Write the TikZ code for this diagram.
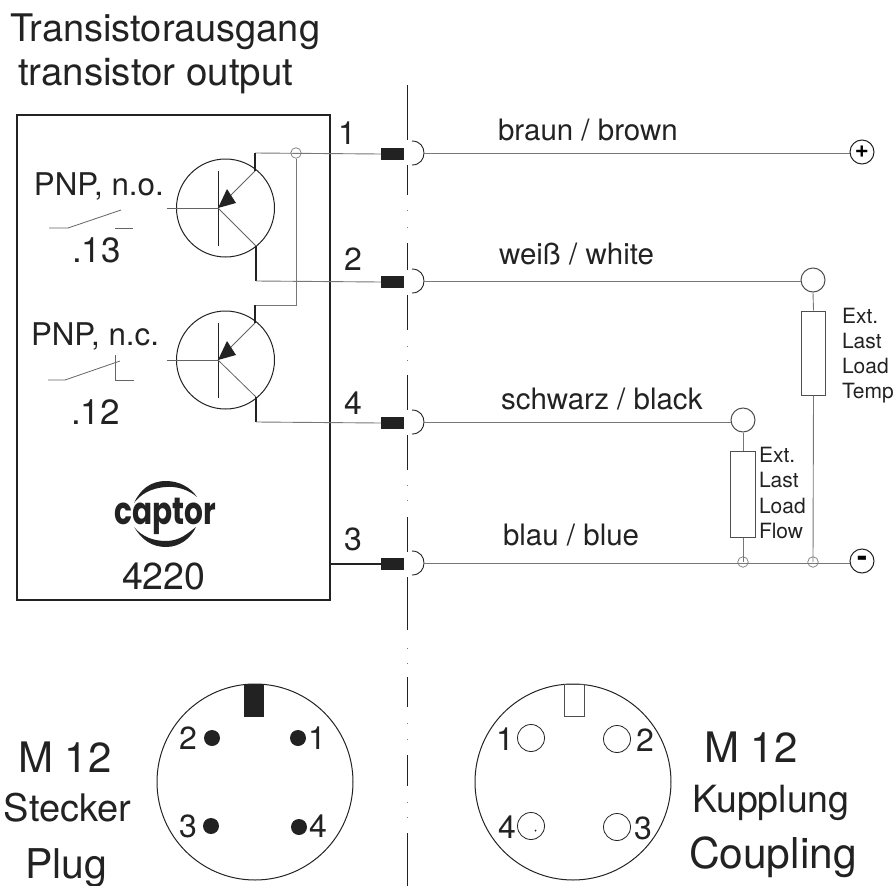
\documentclass[tikz,border=0pt]{standalone}
\usepackage{fontspec}
\setmainfont{TeX Gyre Heros}
\newfontfamily\logofont{Poppins}[Scale=1]
\newcommand{\fs}[1]{\fontsize{#1}{#1}\selectfont}
\definecolor{ink}{HTML}{222222}
\definecolor{wire}{HTML}{777777}
\tikzset{
 lbl/.style={anchor=base west,inner sep=0pt,outer sep=0pt,text=ink},
 cen/.style={anchor=base,inner sep=0pt,outer sep=0pt,text=ink},
 wireline/.style={draw=wire,line width=0.9pt},
 darkline/.style={draw=ink,line width=1.3pt},
 thinline/.style={draw=ink!70,line width=0.8pt},
 pinblock/.style={fill=ink,draw=none,minimum width=23pt,minimum height=12pt,inner sep=0pt},
 term/.style={circle,draw=ink,line width=1pt,minimum size=24pt,inner sep=0pt,fill=white},
 junct/.style={circle,draw=wire,line width=0.7pt,minimum size=10.5pt,inner sep=0pt},
 trans/.style={circle,draw=ink,line width=1pt,minimum size=98pt,inner sep=0pt},
 load/.style={rectangle,draw=ink!80,line width=1pt,minimum width=24.5pt,inner sep=0pt},
 face/.style={circle,draw=ink,line width=1pt,minimum size=196pt,inner sep=0pt},
 pinfull/.style={circle,fill=ink,minimum size=16pt,inner sep=0pt},
 pinopen/.style={circle,draw=ink,line width=0.8pt,minimum size=27pt,inner sep=0pt},
 sep/.style={draw=ink,line width=1pt},
}
\begin{document}
\begin{tikzpicture}[x=1pt,y=-1pt]
\useasboundingbox (0,0) rectangle (895,886);
% titles
\node[lbl,font=\fs{38}] (t1) at (10,41) {Transistorausgang};
\node[lbl,font=\fs{38.5}] (t2) at (18,85) {transistor output};
% housing
\node[draw=ink,line width=2pt,minimum width=313pt,minimum height=485pt,inner sep=0pt] (box) at (173.5,357.5) {};
% separator
\foreach \a/\b in {85/140,165/195,243/270,295/330,375/410,435/470,517/552,577/630,677/707,755/786,833/886}
  \draw[sep] (407,\a) -- (407,\b);
\foreach \d in {210,227,346,360,485,500,648,663,723,739,802,817}
  \fill[ink!60] (406.5,\d) rectangle (407.5,\d+1);
% transistors
\node[trans] (q1) at (225.5,208) {};
\node[trans] (q2) at (225.5,360) {};
\coordinate (b1) at (218,208);
\coordinate (b2) at (218,360);
\coordinate (e1) at (255,171);
\coordinate (c1) at (256,246);
\coordinate (e2) at (255,323);
\coordinate (c2) at (256,397);
\foreach \q/\b/\e/\c in {1/208/171/246,2/360/323/397}{
  \draw[darkline,line width=1pt] (218,\b-37) -- (218,\b+38);
  \draw[thinline] (167,\b) -- (218,\b);
  \draw[thinline] (218,\b) -- (e\q);
  \draw[thinline] (218,\b) -- (c\q);
  \fill[ink] (218,\b) -- (227,\b-19) -- (236,\b-5) -- cycle;
}
% pins
\node[pinblock] (p1) at (392.5,154) {};
\node[pinblock] (p2) at (392.5,282) {};
\node[pinblock] (p4) at (392.5,423) {};
\node[pinblock] (p3) at (392.5,564) {};
\foreach \n/\y in {1/153,2/281,4/422,3/563}{
  \draw[ink,line width=0.9pt] (412,\y-12) .. controls (420,\y-12) and (424,\y-6) .. (424,\y) .. controls (424,\y+6) and (420,\y+12) .. (412,\y+12);
  \coordinate (s\n) at (424,\y);
}
% terminals and loads
\node[term,font=\bfseries\fs{24}] (plus) at (862,152) {+};
\node[term,font=\bfseries\fs{30}] (minus) at (862,561) {-};
\node[term,draw=ink!80] (tt) at (813,280) {};
\node[term,draw=ink!80] (ft) at (743,420) {};
\node[load,minimum height=84pt] (rt) at (813.5,353) {};
\node[load,minimum height=86pt] (rf) at (743,494) {};
\coordinate (jt) at (813,562);
\coordinate (jf) at (743,562);
\node[junct] (jtn) at (jt) {};
\node[junct] (jfn) at (jf) {};
\node[junct] (jtop) at (296,153) {};
% wires
\coordinate (k1) at (255,153);
\coordinate (k2) at (256,281);
\coordinate (k3) at (255,305);
\coordinate (k3b) at (296,305);
\coordinate (k4) at (256,422);
\draw[wireline] (k1) -- (p1.west);
\draw[darkline] (k1) -- (e1);
\draw[darkline] (c1) -- (k2);
\draw[wireline] (k2) -- (p2.west);
\draw[wireline] (jtop.south) -- (k3b) -- (k3);
\draw[darkline] (k3) -- (e2);
\draw[darkline] (c2) -- (k4);
\draw[wireline] (k4) -- (p4.west);
\draw[darkline] (box.east |- p3.west) -- (p3.west);
\draw[wireline] (s1) -- (plus.west |- s1);
\draw[wireline] (s2) -- (tt.west |- s2);
\draw[wireline] (s4) -- (ft.west |- s4);
\draw[wireline] (s3) -- (minus.west |- s3);
\draw[wireline] (tt.south) -- (rt.north);
\draw[wireline] (rt.south) -- (jt);
\draw[wireline] (ft.south) -- (rf.north);
\draw[wireline] (rf.south) -- (jf);
% switches
\coordinate (a1) at (49,228);
\coordinate (a2) at (68,228);
\coordinate (a3) at (121,210);
\coordinate (a4) at (115,228);
\coordinate (a5) at (133,228);
\draw[thinline] (a1) -- (a2) -- (a3);
\draw[thinline] (a4) -- (a5);
\coordinate (d1) at (48,380);
\coordinate (d2) at (65,380);
\coordinate (d3) at (120,361);
\coordinate (d4) at (115,355);
\coordinate (d5) at (115,380);
\coordinate (d6) at (134,380);
\draw[thinline] (d1) -- (d2) -- (d3);
\draw[thinline] (d4) -- (d5) -- (d6);
% labels in box
\node[lbl,font=\fs{31.3}] (l1) at (34,195) {PNP, n.o.};
\node[lbl,font=\fs{31.3}] (l2) at (31,345) {PNP, n.c.};
\node[lbl,font=\fs{35}] (l3) at (72,262) {.13};
\node[lbl,font=\fs{35}] (l4) at (71,424) {.12};
\node[lbl,font=\fs{37.5}] (l5) at (122,589) {4220};
% logo
\fill[ink] (134,503) .. controls (140,490) and (150,481) .. (166,481) .. controls (180,481) and (191,488) .. (197,497) .. controls (188,489) and (175,486) .. (166,487) .. controls (150,488) and (140,495) .. (134,503) -- cycle;
\fill[ink] (134,527) .. controls (142,540) and (152,547) .. (166,547) .. controls (180,547) and (191,538) .. (196,527) .. controls (188,533) and (180,541) .. (166,541) .. controls (154,541) and (142,537) .. (134,527) -- cycle;
\node[anchor=base,inner sep=0pt,text=ink,xscale=0.78,yscale=1] (logo) at (165,524) {\logofont\bfseries\fs{38}captor};
% pin numbers
\node[cen,font=\fs{32}] (n1) at (347,144) {1};
\node[cen,font=\fs{32}] (n2) at (353,270) {2};
\node[cen,font=\fs{32}] (n4) at (353,414) {4};
\node[cen,font=\fs{32}] (n3) at (353,550) {3};
% wire labels
\node[lbl,font=\fs{29.5}] (w1) at (498,140) {braun / brown};
\node[lbl,font=\fs{29.5}] (w2) at (499,264) {weiß / white};
\node[lbl,font=\fs{29.5}] (w3) at (501,409) {schwarz / black};
\node[lbl,font=\fs{29.5}] (w4) at (503,545) {blau / blue};
% ext labels
\node[lbl,font=\fs{21}] (e1a) at (842,323) {Ext.};
\node[lbl,font=\fs{21}] (e1b) at (842,348) {Last};
\node[lbl,font=\fs{21}] (e1c) at (842,373) {Load};
\node[lbl,font=\fs{21}] (e1d) at (842,398) {Temp};
\node[lbl,font=\fs{21}] (e2a) at (759,462) {Ext.};
\node[lbl,font=\fs{21}] (e2b) at (759,487) {Last};
\node[lbl,font=\fs{21}] (e2c) at (759,513) {Load};
\node[lbl,font=\fs{21}] (e2d) at (759,538) {Flow};
% plug face
\node[face] (plug) at (255,782) {};
\node[fill=ink,minimum width=20pt,minimum height=33pt,inner sep=0pt] (plugkey) at (254,700.5) {};
\node[pinfull] (pp2) at (212,738) {};
\node[pinfull] (pp1) at (298,738) {};
\node[pinfull] (pp3) at (211,826) {};
\node[pinfull] (pp4) at (299,827) {};
\node[cen,font=\fs{32}] (pn2) at (188,749) {2};
\node[cen,font=\fs{32}] (pn1) at (317,749) {1};
\node[cen,font=\fs{32}] (pn3) at (188,837) {3};
\node[cen,font=\fs{32}] (pn4) at (318,837) {4};
% coupling face
\node[face] (coup) at (573,782) {};
\node[draw=ink!80,line width=0.9pt,minimum width=20pt,minimum height=32pt,inner sep=0pt] (coupkey) at (574,700) {};
\node[pinopen] (cs1) at (531,738) {};
\node[pinopen] (cs2) at (617,739) {};
\node[pinopen] (cs4) at (531,826) {};
\node[pinopen] (cs3) at (617,827) {};
\fill[ink] (535.5,830.5) circle (1pt);
\node[cen,font=\fs{32}] (cn1) at (505,750) {1};
\node[cen,font=\fs{32}] (cn2) at (645,751) {2};
\node[cen,font=\fs{32}] (cn4) at (507,838) {4};
\node[cen,font=\fs{32}] (cn3) at (643,839) {3};
% side captions
\node[lbl,font=\fs{42}] (m1) at (18,772) {M 12};
\node[lbl,font=\fs{38}] (m2) at (4,821) {Stecker};
\node[lbl,font=\fs{41}] (m3) at (25,878) {Plug};
\node[lbl,font=\fs{42}] (c1t) at (704,762) {M 12};
\node[lbl,font=\fs{37.5}] (c2t) at (692,812) {Kupplung};
\node[lbl,font=\fs{42.5}] (c3t) at (689,868) {Coupling};
\end{tikzpicture}
\end{document}
